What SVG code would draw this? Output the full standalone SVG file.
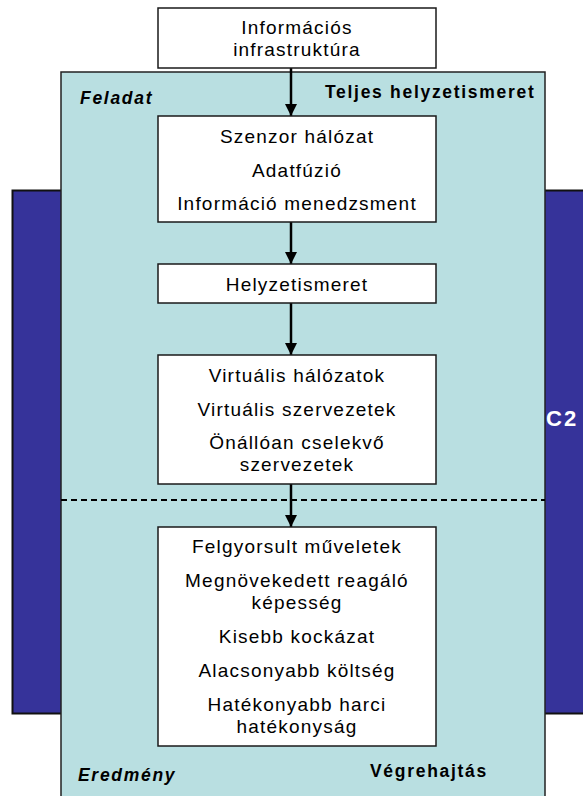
<svg xmlns="http://www.w3.org/2000/svg" width="583" height="796" viewBox="0 0 583 796">
  <style>
    .box { fill: #ffffff; stroke: #1a1a1a; stroke-width: 1.5; }
    .t { font-family: "Liberation Sans", Arial, sans-serif; font-size: 19px; fill: #000; text-anchor: middle; letter-spacing: 1.2px; }
    .lbl { font-family: "Liberation Sans", Arial, sans-serif; font-size: 17.5px; font-weight: bold; fill: #000; letter-spacing: 1.7px; }
    .it { font-style: italic; }
    .link { stroke: #000; stroke-width: 2.5; fill: none; marker-end: url(#arrow); }
  </style>
  <defs>
    <marker id="arrow" markerUnits="userSpaceOnUse" markerWidth="14" markerHeight="14" viewBox="0 0 14 14" refX="12" refY="7" orient="auto">
      <path d="M0,1 L12,7 L0,13 Z" fill="#000"/>
    </marker>
  </defs>

  <!-- C2 background band -->
  <g id="c2-band">
    <rect x="12.5" y="190.5" width="580" height="523" fill="#36339a" stroke="#111" stroke-width="2"/>
    <text x="546" y="426" font-family="'Liberation Sans', Arial, sans-serif" font-size="22" font-weight="bold" fill="#ffffff" letter-spacing="2">C2</text>
  </g>

  <!-- Main light panel -->
  <g id="panel">
    <rect x="61" y="72" width="484" height="730" fill="#b9dfe1" stroke="#222" stroke-width="1.5"/>
    <line x1="61" y1="500" x2="545" y2="500" stroke="#000" stroke-width="2" stroke-dasharray="6,4"/>
    <text class="lbl it" x="80" y="104">Feladat</text>
    <text class="lbl" x="325" y="98">Teljes helyzetismeret</text>
    <text class="lbl it" x="78" y="781">Eredmény</text>
    <text class="lbl" x="370" y="777">Végrehajtás</text>
  </g>

  <!-- Connectors -->
  <g id="connectors">
    <line class="link" x1="291" y1="68" x2="291" y2="116"/>
    <line class="link" x1="291" y1="222" x2="291" y2="264"/>
    <line class="link" x1="291" y1="303" x2="291" y2="355"/>
    <line class="link" x1="291" y1="484" x2="291" y2="527"/>
  </g>

  <g id="node-infra">
    <rect class="box" x="158" y="8" width="278" height="60"/>
    <text class="t" x="297" y="34">Információs</text>
    <text class="t" x="297" y="56">infrastruktúra</text>
  </g>

  <g id="node-sensor">
    <rect class="box" x="158" y="116" width="278" height="106"/>
    <text class="t" x="297" y="143">Szenzor hálózat</text>
    <text class="t" x="297" y="177">Adatfúzió</text>
    <text class="t" x="297" y="210">Információ menedzsment</text>
  </g>

  <g id="node-awareness">
    <rect class="box" x="158" y="264" width="278" height="39"/>
    <text class="t" x="297" y="291">Helyzetismeret</text>
  </g>

  <g id="node-virtual">
    <rect class="box" x="158" y="355" width="278" height="129"/>
    <text class="t" x="297" y="382">Virtuális hálózatok</text>
    <text class="t" x="297" y="416">Virtuális szervezetek</text>
    <text class="t" x="297" y="449">Önállóan cselekvő</text>
    <text class="t" x="297" y="471">szervezetek</text>
  </g>

  <g id="node-results">
    <rect class="box" x="158" y="527" width="278" height="219"/>
    <text class="t" x="297" y="553">Felgyorsult műveletek</text>
    <text class="t" x="297" y="587">Megnövekedett reagáló</text>
    <text class="t" x="297" y="609">képesség</text>
    <text class="t" x="297" y="643">Kisebb kockázat</text>
    <text class="t" x="297" y="677">Alacsonyabb költség</text>
    <text class="t" x="297" y="711">Hatékonyabb harci</text>
    <text class="t" x="297" y="733">hatékonyság</text>
  </g>
</svg>
